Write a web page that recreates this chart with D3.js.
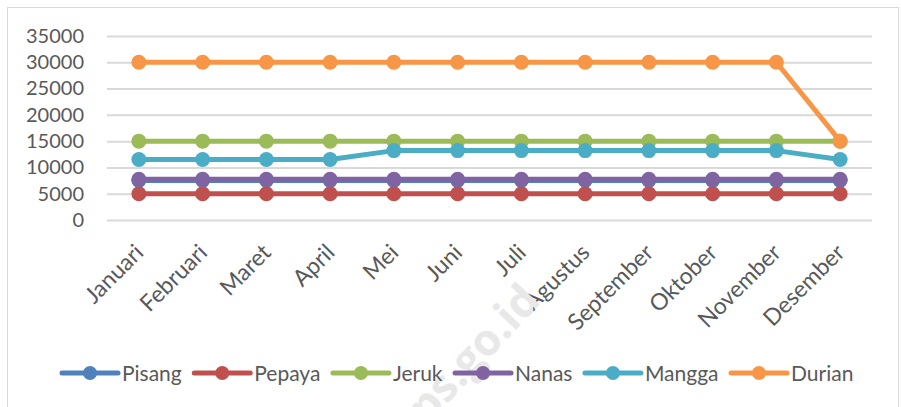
<!DOCTYPE html>
<html>
<head>
<meta charset="utf-8">
<script src="https://cdn.jsdelivr.net/npm/d3@7"></script>
<style>
  body { margin: 0; background: #fff; }
  svg { display: block; font-family: Lato, "Open Sans", sans-serif; }
</style>
</head>
<body>
<div class="chartBoard"></div>
<script>
// months on the x axis
const bulan = ["Januari", "Februari", "Maret", "April", "Mei", "Juni", "Juli",
  "Agustus", "September", "Oktober", "November", "Desember"];

// one array per fruit
const pisang = [7500, 7500, 7500, 7500, 7500, 7500, 7500, 7500, 7500, 7500, 7500, 7500];
const pepaya = [5000, 5000, 5000, 5000, 5000, 5000, 5000, 5000, 5000, 5000, 5000, 5000];
const jeruk = [15000, 15000, 15000, 15000, 15000, 15000, 15000, 15000, 15000, 15000, 15000, 15000];
const nanas = [7750, 7750, 7750, 7750, 7750, 7750, 7750, 7750, 7750, 7750, 7750, 7750];
const mangga = [11500, 11500, 11500, 11500, 13200, 13200, 13200, 13200, 13200, 13200, 13200, 11500];
const durian = [30000, 30000, 30000, 30000, 30000, 30000, 30000, 30000, 30000, 30000, 30000, 15000];

const yTicks = [0, 5000, 10000, 15000, 20000, 25000, 30000, 35000];

const seriesNames = ["Pisang", "Pepaya", "Jeruk", "Nanas", "Mangga", "Durian"];
const seriesColors = ["#4F81BD", "#C0504D", "#9BBB59", "#8064A2", "#4BACC6", "#F79646"];

const series = [pisang, pepaya, jeruk, nanas, mangga, durian].map((vals, i) => ({
  name: seriesNames[i],
  color: seriesColors[i],
  values: vals
}));

const w = 901, h = 407;
const padL = 107, padR = 872, padT = 36, padB = 220; // plot edges

const svg = d3.select(".chartBoard")
  .append("svg")
  .attr("width", w)
  .attr("height", h);

// outer frame
svg.append("rect")
  .attr("x", 7.5).attr("y", 7.5)
  .attr("width", 891).attr("height", 420)
  .attr("fill", "#fff")
  .attr("stroke", "#d9d9d9")
  .attr("stroke-width", 1);

const xScale = d3.scalePoint()
  .domain(bulan)
  .range([padL, padR])
  .padding(0.5);

const yScale = d3.scaleLinear()
  .domain([0, 35000])
  .range([padB, padT]);

// gridlines + y labels
const yAxis = d3.axisLeft(yScale)
  .tickValues(yTicks)
  .tickSize(-(padR - padL))
  .tickPadding(23)
  .tickFormat(d3.format("d"));

svg.append("g")
  .attr("id", "y-axis")
  .attr("transform", "translate(" + padL + ",0)")
  .call(yAxis)
  .call(g => g.select(".domain").remove())
  .call(g => g.selectAll(".tick line").attr("stroke", "#d9d9d9").attr("stroke-width", 2))
  .call(g => g.selectAll(".tick text")
    .attr("fill", "#595959")
    .style("font-size", "20px")
    .style("font-family", "Lato, sans-serif"));

// month labels, rotated
svg.append("g")
  .selectAll("text")
  .data(bulan)
  .enter()
  .append("text")
  .attr("transform", d => "translate(" + (xScale(d) + 6) + "," + 254 + ") rotate(-45)")
  .attr("text-anchor", "end")
  .attr("fill", "#595959")
  .style("font-size", "23px")
  .text(d => d);

// watermark, clipped by the bottom edge as in the source
svg.append("text")
  .attr("transform", "translate(542,302) rotate(-47)")
  .attr("text-anchor", "end")
  .attr("fill", "#e8e8e8")
  .style("font-family", "'Open Sans', sans-serif")
  .style("font-size", "44px")
  .style("font-weight", "bold")
  .text("bps.go.id");

const line = d3.line()
  .x((d, i) => xScale(bulan[i]))
  .y(d => yScale(d));

const lines = svg.append("g").attr("class", "lines");

series.forEach(s => {
  const g = lines.append("g");
  g.append("path")
    .datum(s.values)
    .attr("fill", "none")
    .attr("stroke", s.color)
    .attr("stroke-width", 5)
    .attr("stroke-linejoin", "round")
    .attr("d", line);
  g.selectAll("circle")
    .data(s.values)
    .enter()
    .append("circle")
    .attr("cx", (d, i) => xScale(bulan[i]))
    .attr("cy", d => yScale(d))
    .attr("r", 7.5)
    .attr("fill", s.color);
});

// legend
const legend = svg.append("g").attr("class", "legend");
let lx = 62;
const ly = 373;
series.forEach(s => {
  const item = legend.append("g");
  item.append("line")
    .attr("x1", lx).attr("x2", lx + 56)
    .attr("y1", ly).attr("y2", ly)
    .attr("stroke", s.color)
    .attr("stroke-width", 5)
    .attr("stroke-linecap", "round");
  item.append("circle")
    .attr("cx", lx + 28).attr("cy", ly)
    .attr("r", 7)
    .attr("fill", s.color);
  const t = item.append("text")
    .attr("x", lx + 60)
    .attr("y", ly + 7.5)
    .attr("fill", "#595959")
    .style("font-size", "21px")
    .text(s.name);
  lx += 60 + t.node().getComputedTextLength() + 12.5;
});
</script>
</body>
</html>
